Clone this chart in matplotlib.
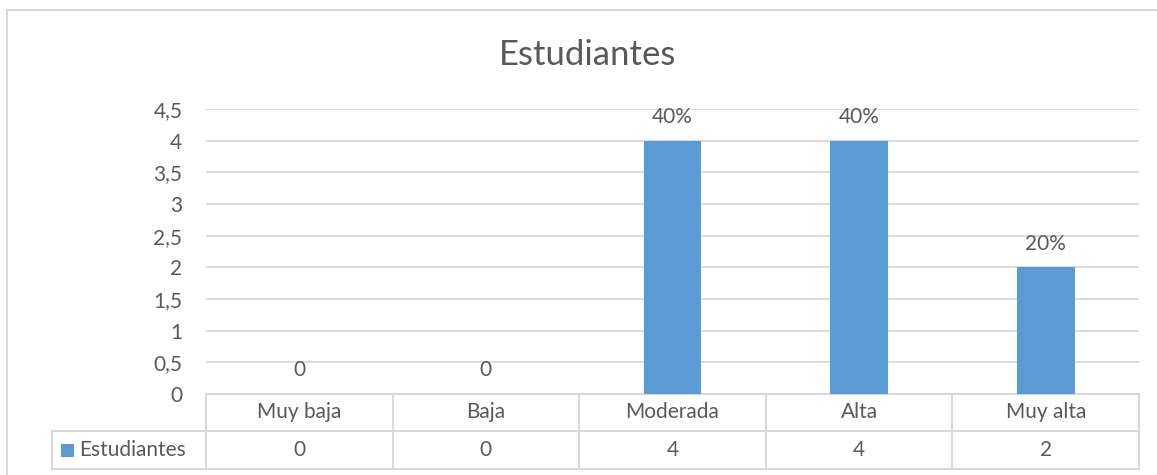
import matplotlib.pyplot as plt
from matplotlib.lines import Line2D
from matplotlib.patches import Rectangle
import matplotlib.transforms as mtransforms

categories = ["Muy baja", "Baja", "Moderada", "Alta", "Muy alta"]
values = [0, 0, 4, 4, 2]
bar_labels = ["0", "0", "40%", "40%", "20%"]
yticks = [0, 0.5, 1, 1.5, 2, 2.5, 3, 3.5, 4, 4.5]
series_name = "Estudiantes"

BLUE = "#5B9BD5"
TEXT = "#595959"
GRID = "#D9D9D9"
FS = 15

plt.rcParams["font.family"] = ["Lato", "DejaVu Sans"]

W, H = 1157, 475
fig = plt.figure(figsize=(W / 100, H / 100), dpi=100)

# plot area in pixels: x 206..1139, y 109..394
ax = fig.add_axes([206 / W, (H - 394) / H, 933 / W, 285 / H])
x = list(range(len(categories)))
ax.bar(x, values, width=0.31, color=BLUE, zorder=3)
ax.set_xlim(-0.5, len(categories) - 0.5)
ax.set_ylim(0, 4.5)
ax.set_yticks(yticks)
ax.set_yticklabels([f"{t:g}".replace(".", ",") for t in yticks])
ax.set_xticks([])
ax.tick_params(axis="y", length=0, pad=17, labelsize=FS, labelcolor=TEXT)
ax.grid(axis="y", color=GRID, linewidth=1.3, zorder=0)
for s in ax.spines.values():
    s.set_visible(False)

for xi, v, lab in zip(x, values, bar_labels):
    ax.annotate(lab, (xi, v), xytext=(0, 17), textcoords="offset points",
                ha="center", va="center", fontsize=FS, color=TEXT)

fig.text(588 / W, (H - 55) / H, series_name, ha="center", va="center",
         fontsize=25, color=TEXT)

# data table under the axis
trans = mtransforms.blended_transform_factory(ax.transData, ax.transAxes)
r1 = -37 / 285
r2 = -75 / 285
left_cell = (52 - 206) / 933
lkw = dict(color=GRID, linewidth=1.5, clip_on=False)
ax.add_line(Line2D([-0.5, 4.5], [0, 0], transform=trans, **lkw))
ax.add_line(Line2D([left_cell, 1], [r1, r1], transform=ax.transAxes, **lkw))
ax.add_line(Line2D([left_cell, 1], [r2, r2], transform=ax.transAxes, **lkw))
ax.add_line(Line2D([left_cell, left_cell], [r1, r2], transform=ax.transAxes, **lkw))
for b in [i - 0.5 for i in range(len(categories) + 1)]:
    ax.add_line(Line2D([b, b], [0, r2], transform=trans, **lkw))

for xi, cat, v in zip(x, categories, values):
    ax.text(xi, r1 / 2, cat, transform=trans, ha="center", va="center",
            fontsize=FS, color=TEXT)
    ax.text(xi, (r1 + r2) / 2, str(v), transform=trans, ha="center", va="center",
            fontsize=FS, color=TEXT)

# legend key in the table
ax.add_patch(Rectangle((61 / W, (H - 457) / H), 13 / W, 13 / H, transform=fig.transFigure,
                       facecolor=BLUE, edgecolor="none", clip_on=False))
fig.text(79 / W, (H - 450) / H, series_name, ha="left", va="center", fontsize=FS, color=TEXT)

# chart outer border (left and top visible)
fig.add_artist(Line2D([7 / W, 7 / W], [0, (H - 10) / H], transform=fig.transFigure,
                      color=GRID, linewidth=1.5))
fig.add_artist(Line2D([7 / W, 1], [(H - 10) / H, (H - 10) / H], transform=fig.transFigure,
                      color=GRID, linewidth=1.5))

fig.savefig("out.png", dpi=100)
